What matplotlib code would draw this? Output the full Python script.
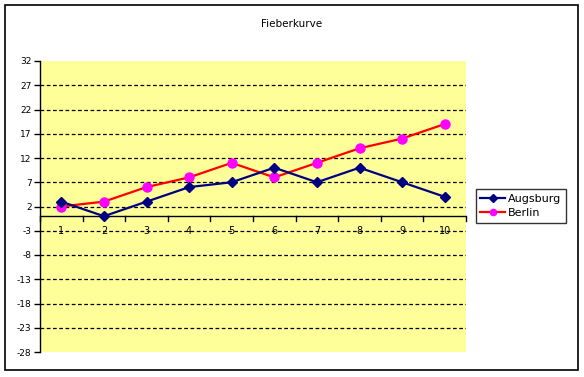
import matplotlib
matplotlib.use("Agg")
import matplotlib.pyplot as plt
from matplotlib.patches import Rectangle

# Daten
tage = [1, 2, 3, 4, 5, 6, 7, 8, 9, 10]
augsburg = [3, 0, 3, 6, 7, 10, 7, 10, 7, 4]
berlin = [2, 3, 6, 8, 11, 8, 11, 14, 16, 19]
y_ticks = [-28, -23, -18, -13, -8, -3, 2, 7, 12, 17, 22, 27, 32]

plt.rcParams['font.family'] = ['DejaVu Sans']

fig = plt.figure(figsize=(5.84, 3.77), dpi=100)
fig.patches.append(Rectangle((5 / 584, 1 - 370 / 377), 573 / 584, 365 / 377,
                             transform=fig.transFigure, fill=False,
                             edgecolor='black', linewidth=1.2, zorder=0))

# Zeichenfläche in Pixeln: links 40, oben 61, rechts 466, unten 352
ax = fig.add_axes([40 / 584, 1 - 352 / 377, 426 / 584, 291 / 377])
ax.set_facecolor('#FFFF99')

x = list(range(len(tage)))
ax.plot(x, augsburg, color='#000080', linewidth=1.6, marker='D', markersize=5.5,
        markerfacecolor='#000080', markeredgecolor='#000080', label='Augsburg', zorder=4)
ax.plot(x, berlin, color='#FF0000', linewidth=1.6, marker='o', markersize=6.5,
        markerfacecolor='#FF00FF', markeredgecolor='#FF00FF', label='Berlin', zorder=3)

ax.set_xlim(-0.5, len(tage) - 0.5)
ax.set_ylim(-28, 32)

for s in ['top', 'right', 'bottom']:
    ax.spines[s].set_visible(False)
ax.spines['left'].set_color('black')
ax.spines['left'].set_linewidth(1)

ax.set_yticks(y_ticks)
ax.set_yticklabels([str(v) for v in y_ticks], fontsize=6.5)
ax.tick_params(axis='y', length=4, width=1, pad=2)

# Gitterlinien
for v in y_ticks[1:-1]:
    ax.axhline(v, color='black', linestyle=(0, (3, 2)), linewidth=0.9, zorder=1)

# x-Achse bei 0
ax.axhline(0, color='black', linewidth=1, zorder=2)
ax.set_xticks([])
for i in range(len(tage) + 1):
    ax.plot([i - 0.5, i - 0.5], [0, -1], color='black', linewidth=1, zorder=2,
            clip_on=False)
for i, t in enumerate(tage):
    ax.text(i, -3, str(t), ha='center', va='center', fontsize=7, zorder=5)

fig.text(292 / 584, 1 - 24 / 377, 'Fieberkurve', ha='center', va='center',
         fontsize=7.5)

leg = fig.legend(loc='center left', bbox_to_anchor=(476 / 584, 1 - 206 / 377),
                 fontsize=8, frameon=True, fancybox=False, handlelength=2.2,
                 borderpad=0.4, labelspacing=0.4, handletextpad=0.3, borderaxespad=0)
leg.get_frame().set_edgecolor('black')
leg.get_frame().set_linewidth(1)
for h in leg.legend_handles:
    h.set_markersize(4.5)

fig.savefig('out.png', dpi=100)
